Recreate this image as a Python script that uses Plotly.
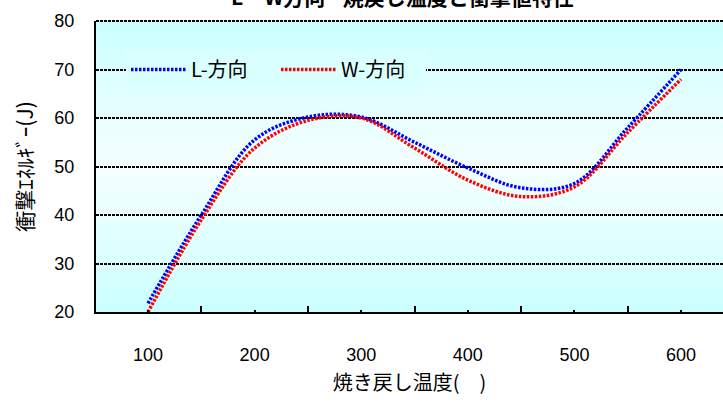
import plotly.graph_objects as go

# ---- data ----
temps = [100, 150, 200, 250, 300, 350, 400, 450, 500, 550, 600]
l_dir = [21.8, 40, 55.5, 60.2, 60.2, 55, 49.7, 45.6, 46.5, 58, 70]
w_dir = [20, 39, 53.8, 59.5, 60, 53.8, 47.2, 43.8, 45.8, 57, 68]
x_ticks = [100, 200, 300, 400, 500, 600]
x_minor = [150, 250, 350, 450, 550]
y_ticks = [20, 30, 40, 50, 60, 70, 80]

title_text = "L・W方向 - 焼戻し温度と衝撃値特性"
x_title = "焼き戻し温度(　)"
y_title = "衝撃ｴﾈﾙｷﾞｰ(J)"

W, H = 723, 407
ml, mr, mt, mb = 96, 0, 21, 95
PW, PH = W - ml - mr, H - mt - mb

fig = go.Figure()
fig.add_trace(go.Scatter(x=temps, y=l_dir, name="L-方向", mode="lines",
                         line=dict(color="#0000FF", width=3.5, dash="2.5px,1.5px", shape="spline", smoothing=1.0)))
fig.add_trace(go.Scatter(x=temps, y=w_dir, name="W-方向", mode="lines",
                         line=dict(color="#FF0000", width=3.5, dash="2.5px,1.5px", shape="spline", smoothing=1.0)))

# gradient background (edges cyan, center near white)
shapes = []
n = 60
for i in range(n):
    y0 = i / n
    y1 = (i + 1) / n
    mid = (y0 + y1) / 2
    t = 1 - abs(mid - 0.5) / 0.5  # 0 at edges, 1 at center
    r = int(204 + (246 - 204) * t)
    shapes.append(dict(type="rect", xref="x domain", yref="y domain", x0=0, x1=1, y0=y0, y1=y1 + 0.002,
                       fillcolor=f"rgb({r},255,255)", line=dict(width=0), layer="below"))
shapes.append(dict(type="line", xref="x domain", yref="y domain", x0=0, x1=1, y0=1, y1=1,
                   line=dict(color="black", width=2, dash="3px,1px"), layer="below"))

fig.update_layout(
    width=W, height=H,
    margin=dict(l=ml, r=mr, t=mt, b=mb),
    paper_bgcolor="white",
    plot_bgcolor="rgb(204,255,255)",
    shapes=shapes,
    annotations=[dict(text="<b>" + title_text + "</b>", xref="paper", yref="paper",
                      x=(402 - ml) / PW, xanchor="center", y=1 + (mt + 4) / PH, yanchor="middle",
                      showarrow=False, font=dict(family="Noto Sans CJK JP", size=21, color="black"))],
    showlegend=True,
    legend=dict(orientation="h", x=(126 - ml) / PW, xanchor="left", y=(70 - 20) / 60, yanchor="middle",
                bgcolor="rgb(218,255,255)", borderwidth=0,
                font=dict(family="Noto Sans CJK JP", size=20, color="black"),
                itemwidth=55, entrywidth=80, entrywidthmode="pixels", tracegroupgap=0),
    font=dict(family="Liberation Sans", color="black"),
)

fig.update_xaxes(
    range=[51.2, 51.2 + PW / 1.066],
    tickmode="array", tickvals=x_ticks, ticktext=[str(v) for v in x_ticks],
    ticks="inside", ticklen=2, tickwidth=1.5, tickcolor="black",
    minor=dict(tickmode="array", tickvals=x_minor, ticks="inside", ticklen=6, tickwidth=1.5, tickcolor="black",
               showgrid=False),
    ticklabelstandoff=25,
    tickfont=dict(family="Liberation Sans", size=18, color="black"),
    showgrid=False, zeroline=False,
    showline=True, linecolor="black", linewidth=2,
    title=dict(text=x_title, font=dict(family="Noto Sans CJK JP", size=20, color="black"), standoff=12),
)
fig.update_yaxes(
    range=[20, 80],
    tickmode="array", tickvals=y_ticks,
    ticks="", ticklabelstandoff=16,
    tickfont=dict(family="Liberation Sans", size=18, color="black"),
    showgrid=True, gridcolor="black", gridwidth=2, griddash="3px,1px",
    zeroline=False,
    showline=True, linecolor="black", linewidth=2,
    title=dict(text=y_title, font=dict(family="Noto Sans CJK JP", size=21, color="black"), standoff=15),
)

fig.write_html("out.html")
